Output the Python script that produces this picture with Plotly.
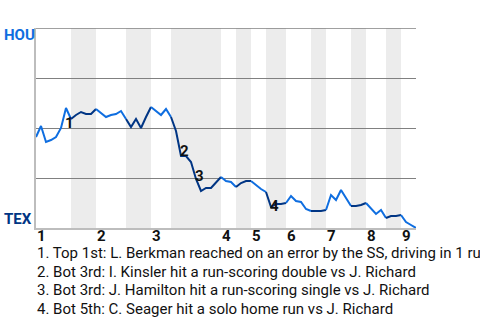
import plotly.graph_objects as go
import numpy as np

# plate appearances in each half inning (top 1, bot 1, top 2, ...)
half_inning_pas = [7, 5, 6, 5, 4, 10, 3, 3, 3, 4, 5, 3, 5, 3, 4, 3, 3]
inning_labels = ["1", "2", "3", "4", "5", "6", "7", "8", "9"]

# Houston win probability (%) after each plate appearance
hou_wp = [45.5, 51, 43, 44, 45.5, 50, 60, 54.5,
          56.5, 58, 57, 57, 59.5,
          57.5, 55.5, 56.5, 57, 58.5, 54.5,
          50.5, 54.5, 50, 55.5, 60.5,
          58.5, 56.5, 59.5, 55.5,
          48.5, 36, 36, 33, 24.5, 18.5, 20, 20, 22.5, 25.5,
          23.5, 23, 20.5,
          22.5, 23.5, 23.5,
          21.5, 19.5, 18,
          10.5, 12, 12, 12.5,
          16, 13.5, 13, 9.5, 8.5,
          8.5, 8.5, 9,
          16.5, 14, 19, 15, 11,
          11, 11.5, 12.5,
          9.5, 7, 9, 5,
          6, 6, 6.5,
          3, 1.5, 0]

event_pa = [7, 29, 32, 47]
event_text = [
    "1. Top 1st: L. Berkman reached on an error by the SS, driving in 1 run",
    "2. Bot 3rd: I. Kinsler hit a run-scoring double vs J. Richard",
    "3. Bot 3rd: J. Hamilton hit a run-scoring single vs J. Richard",
    "4. Bot 5th: C. Seager hit a solo home run vs J. Richard",
]
event_shift = [(-2, -4), (3, 5), (3, 3), (3, 1)]

teams = ["HOU", "TEX"]
team_colors = {"HOU": "#0f6ee0", "TEX": "#003584"}

FONT = "Roboto, Arial, sans-serif"
wp = np.array(hou_wp) / 100.0
bounds = np.concatenate([[0], np.cumsum(half_inning_pas)])
total = int(bounds[-1])

fig = go.Figure()

for h in range(len(half_inning_pas)):
    s, e = int(bounds[h]), int(bounds[h + 1])
    color = team_colors["HOU"] if h % 2 == 0 else team_colors["TEX"]
    fig.add_trace(go.Scatter(
        x=list(range(s, e + 1)), y=wp[s:e + 1], mode="lines",
        line=dict(color=color, width=2), hoverinfo="skip", showlegend=False))

shapes = []
for h in range(1, len(half_inning_pas), 2):
    shapes.append(dict(type="rect", xref="x", yref="paper",
                       x0=bounds[h], x1=bounds[h + 1], y0=0, y1=1,
                       fillcolor="#ececec", line=dict(width=0), layer="below"))
# top gridline at the edge of the range
shapes.append(dict(type="line", xref="paper", yref="y", x0=0, x1=1,
                   y0=1, y1=1, line=dict(color="#808080", width=1.3),
                   layer="below"))

ann = []
# inning labels
for k, lab in enumerate(inning_labels):
    ann.append(dict(x=bounds[2 * k], y=0, xref="x", yref="paper",
                    text="<b>%s</b>" % lab, showarrow=False,
                    xanchor="left", yanchor="top", yshift=3, xshift=-1,
                    font=dict(family=FONT, size=15, color="#111")))
# event markers
for n, (i, (dx, dy)) in enumerate(zip(event_pa, event_shift)):
    ann.append(dict(x=i, y=wp[i], xref="x", yref="y",
                    text="<b>%d</b>" % (n + 1), showarrow=False,
                    xshift=dx, yshift=dy,
                    font=dict(family=FONT, size=15, color="#111")))
# team labels
ann.append(dict(x=-34 / 380, y=0.965, xref="paper", yref="paper",
                text="<b>HOU</b>", showarrow=False, xanchor="left",
                yanchor="middle",
                font=dict(family=FONT, size=15, color=team_colors["HOU"])))
ann.append(dict(x=-34 / 380, y=0.045, xref="paper", yref="paper",
                text="<b>TEX</b>", showarrow=False, xanchor="left",
                yanchor="middle",
                font=dict(family=FONT, size=15, color=team_colors["TEX"])))
# event descriptions
for n, t in enumerate(event_text):
    ann.append(dict(x=0, y=-0.125 - n * 0.0925, xref="paper", yref="paper",
                    text=t, showarrow=False, xanchor="left", yanchor="middle",
                    xshift=-1,
                    font=dict(family=FONT, size=15, color="#111")))

fig.update_layout(
    width=480, height=320,
    margin=dict(l=36, r=64, t=28, b=92),
    paper_bgcolor="white", plot_bgcolor="white",
    shapes=shapes, annotations=ann,
    xaxis=dict(range=[0, total], showgrid=False, zeroline=False,
               showticklabels=False, ticks="", showline=True,
               linecolor="#bdbdbd", linewidth=1.5, fixedrange=True),
    yaxis=dict(range=[0, 1], tickvals=[0.25, 0.5, 0.75],
               showgrid=True, gridcolor="#808080", gridwidth=1.3,
               zeroline=False, showticklabels=False, ticks="",
               showline=True, linecolor="#bdbdbd", linewidth=1.5,
               fixedrange=True),
)

fig.write_html("out.html", config={"displayModeBar": False})
